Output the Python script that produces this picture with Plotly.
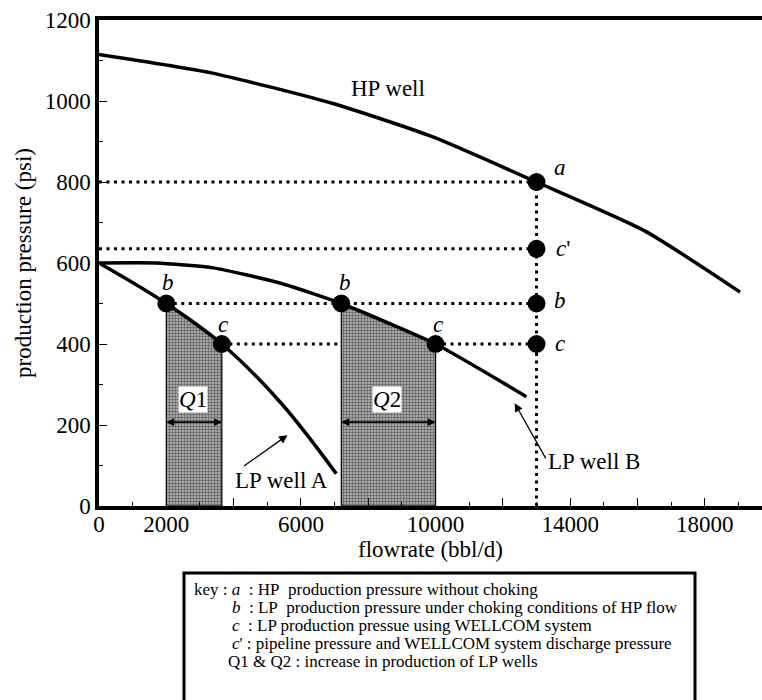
import plotly.graph_objects as go

# ---------------- data ----------------
hp_flow = [0, 3300, 6900, 9900, 13000, 16200, 19050]
hp_press = [1115, 1070, 995, 912, 800, 680, 528]

lpA_flow = [0, 2000, 3650, 5400, 7050]
lpA_press = [600, 500, 400, 255, 80]

lpB_flow = [0, 1700, 3400, 5400, 7200, 10000, 12700]
lpB_press = [600, 600, 588, 550, 500, 400, 270]

# operating points
pt_labels = ["a", "c'", "b", "c", "b", "c", "b", "c"]
pt_flow = [13000, 13000, 13000, 13000, 2000, 3650, 7200, 10000]
pt_press = [800, 635, 500, 400, 500, 400, 500, 400]

# shaded production increases
q1_flow = [2000, 3650]
q1_press = [500, 400]
q2_flow = [7200, 10000]
q2_press = [500, 400]

x_tickvals = [0, 2000, 4000, 6000, 8000, 10000, 12000, 14000, 16000, 18000]
x_ticktext = ["0", "2000", "", "6000", "", "10000", "", "14000", "", "18000"]
y_tickvals = [0, 200, 400, 600, 800, 1000, 1200]

key_lines = [
    "key : <i>a</i>\u00a0\u00a0: HP\u00a0\u00a0production pressure without choking",
    "<i>b</i>\u00a0\u00a0: LP\u00a0\u00a0production pressure under choking conditions of HP flow",
    "<i>c</i>\u00a0\u00a0: LP production pressue using WELLCOM system",
    "<i>c</i>' : pipeline pressure and WELLCOM system discharge pressure",
    "Q1 &amp; Q2 : increase in production of LP wells",
]

FONT = "Liberation Serif, Times New Roman, serif"
fig = go.Figure()

# shaded regions
for fx, fy in [(q1_flow, q1_press), (q2_flow, q2_press)]:
    fig.add_trace(go.Scatter(
        x=[fx[0], fx[0], fx[1], fx[1], fx[0]],
        y=[0, fy[0], fy[1], 0, 0],
        mode="lines", fill="toself",
        fillcolor="#909090",
        fillpattern=dict(shape=".", fgcolor="#000000", bgcolor="#bdbdbd", size=3, solidity=0.5),
        line=dict(color="black", width=1.2),
        hoverinfo="skip"))

dot = "3px,4.5px"
a_x, a_y = pt_flow[0], pt_press[0]
# dotted guide lines
guides = [
    ([0, a_x], [pt_press[0]] * 2),
    ([0, a_x], [pt_press[1]] * 2),
    ([pt_flow[4], a_x], [pt_press[2]] * 2),
    ([pt_flow[5], pt_flow[6]], [pt_press[3]] * 2),
    ([pt_flow[7], a_x], [pt_press[3]] * 2),
    ([a_x, a_x], [0, a_y]),
]
for gx, gy in guides:
    fig.add_trace(go.Scatter(x=gx, y=gy, mode="lines",
                             line=dict(color="black", width=3, dash=dot),
                             hoverinfo="skip"))

# curves
for cx, cy, sm in [(hp_flow, hp_press, 0.6), (lpA_flow, lpA_press, 1.0), (lpB_flow, lpB_press, 0.5)]:
    fig.add_trace(go.Scatter(x=cx, y=cy, mode="lines",
                             line=dict(color="black", width=3.5, shape="spline", smoothing=sm),
                             hoverinfo="skip"))

# points
fig.add_trace(go.Scatter(x=pt_flow, y=pt_press, mode="markers",
                         marker=dict(size=18, color="black"), hoverinfo="skip"))

ann = []
def txt(x, y, t, size=23, **kw):
    d = dict(x=x, y=y, xref="x", yref="y", text=t, showarrow=False,
             font=dict(family=FONT, size=size, color="black"))
    d.update(kw)
    ann.append(d)

# point labels
txt(13690, 837, "<i>a</i>")
txt(13780, 637, "<i>c</i>'")
txt(13690, 507, "<i>b</i>")
txt(13690, 402, "<i>c</i>")
txt(2040, 552, "<i>b</i>")
txt(3670, 449, "<i>c</i>")
txt(7300, 552, "<i>b</i>")
txt(10060, 449, "<i>c</i>")

txt(8575, 1032, "HP well")
txt(2780, 262, "<i>Q</i>1", bgcolor="white", borderpad=0)
txt(8550, 262, "<i>Q</i>2", bgcolor="white", borderpad=0)
txt(5420, 64, "LP well A")
txt(14700, 109, "LP well B")

# double arrows for Q1 / Q2
for fx in (q1_flow, q2_flow):
    for s, e in ((fx[0], fx[1]), (fx[1], fx[0])):
        ann.append(dict(x=e, y=207, ax=s, ay=207, xref="x", yref="y", axref="x", ayref="y",
                        text="", showarrow=True, arrowhead=2, arrowsize=1.3,
                        arrowwidth=1.2, arrowcolor="black", standoff=0))

# pointer arrows
ann.append(dict(x=5600, y=175, ax=4265, ay=96, xref="x", yref="y", axref="x", ayref="y",
                text="", showarrow=True, arrowhead=2, arrowsize=1.3, arrowwidth=1.3,
                arrowcolor="black"))
ann.append(dict(x=12350, y=254, ax=13300, ay=114, xref="x", yref="y", axref="x", ayref="y",
                text="", showarrow=True, arrowhead=2, arrowsize=1.3, arrowwidth=1.3,
                arrowcolor="black"))

# key text (positions in page pixels -> paper coords)
PW, PH = 663.0, 486.0
def px2paper(px, py):
    return (px - 99) / PW, (506 - py) / PH

key_pos = [(192, 589), (230, 607), (230, 625), (230, 643), (226, 661)]
for (kx, ky), t in zip(key_pos, key_lines):
    xp, yp = px2paper(kx, ky)
    ann.append(dict(x=xp, y=yp, xref="paper", yref="paper", text=t, showarrow=False,
                    xanchor="left", yanchor="middle",
                    font=dict(family=FONT, size=17, color="black")))

bx0, by0 = px2paper(184, 573)
bx1, by1 = px2paper(695, 712)

fig.update_layout(
    width=762, height=700,
    margin=dict(l=99, r=0, t=20, b=194, autoexpand=False),
    paper_bgcolor="white", plot_bgcolor="white",
    showlegend=False,
    annotations=ann,
    shapes=[dict(type="rect", xref="paper", yref="paper", x0=bx0, x1=bx1, y0=by1, y1=by0,
                 line=dict(color="black", width=3), fillcolor="rgba(0,0,0,0)")],
    font=dict(family=FONT, size=23, color="black"),
    xaxis=dict(range=[0, 19700], showgrid=False, zeroline=False, automargin=False,
               showline=True, linecolor="black", linewidth=3.5, mirror=True,
               ticks="inside", ticklen=8, tickwidth=1.2, tickcolor="black",
               tickmode="array", tickvals=x_tickvals, ticktext=x_ticktext,
               ticklabelstandoff=-5,
               minor=dict(ticks="inside", ticklen=4, tickwidth=1, dtick=1000, tick0=0, tickcolor="black"),
               tickfont=dict(family=FONT, size=23),
               title=dict(text="flowrate (bbl/d)", font=dict(family=FONT, size=23), standoff=2)),
    yaxis=dict(range=[0, 1200], showgrid=False, zeroline=False, automargin=False,
               showline=True, linecolor="black", linewidth=3.5,
               ticks="inside", ticklen=8, tickwidth=1.2, tickcolor="black",
               tickmode="array", tickvals=y_tickvals,
               minor=dict(ticks="inside", ticklen=4, tickwidth=1, dtick=100, tick0=0, tickcolor="black"),
               tickfont=dict(family=FONT, size=23),
               title=dict(text="production pressure (psi)", font=dict(family=FONT, size=23), standoff=8)),
)

# remove the default page margin so the 762x700 figure fills the window exactly
fig.write_html("out.html", config={"displayModeBar": False},
               post_script="document.body.style.margin='0';document.body.style.overflow='hidden';")
